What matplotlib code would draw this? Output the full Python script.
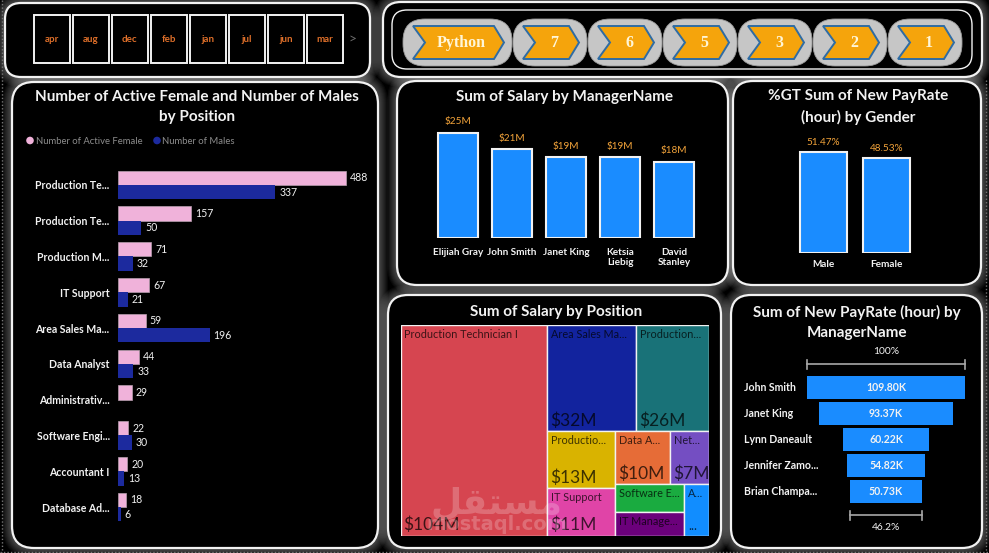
import numpy as np
import matplotlib
matplotlib.use("Agg")
import matplotlib.pyplot as plt
from matplotlib.patches import FancyBboxPatch, Rectangle, Polygon, Circle
import matplotlib.transforms as mtransforms

W, H = 989, 553

# ---------------- data ----------------
months = ["apr", "aug", "dec", "feb", "jan", "jul", "jun", "mar"]
buttons = ["Python", "7", "6", "5", "3", "2", "1"]

positions = ["Production Te...", "Production Te...", "Production M...", "IT Support",
             "Area Sales Ma...", "Data Analyst", "Administrativ...", "Software Engi...",
             "Accountant I", "Database Ad..."]
active_female = [488, 157, 71, 67, 59, 44, 29, 22, 20, 18]
males = [337, 50, 32, 21, 196, 33, np.nan, 30, 13, 6]

managers = ["Elijiah Gray", "John Smith", "Janet King", "Ketsia\nLiebig", "David\nStanley"]
salary_by_manager = [25.0, 21.0, 19.2, 19.1, 18.1]  # $M

genders = ["Male", "Female"]
payrate_share = [51.47, 48.53]  # %

tm_labels = ["Production Technician I", "Area Sales Ma...", "Production...", "Productio...",
             "IT Support", "Data A...", "Net...", "Software E...", "IT Manage...", "A..."]
tm_values = [104, 32, 26, 13, 11, 10, 7, 6.6, 5.4, 4.3]  # $M
tm_colors = ["#D64550", "#12239E", "#197278", "#D9B300", "#E044A7", "#E66C37",
             "#744EC2", "#1AAB40", "#6B007B", "#118DFF"]
tm_rows = [[0], [1, 2], [3, 4], [5, 6], [7, 8], [9]]

funnel_names = ["John Smith", "Janet King", "Lynn Daneault", "Jennifer Zamo...", "Brian Champa..."]
funnel_values = [109.80, 93.37, 60.22, 54.82, 50.73]  # K

# ---------------- style ----------------
TITLE_FONT = "Lato"
LABEL_FONT = "Lato"
WHITE = "#F2F2F2"
ORANGE = "#F2A33A"
BLUE = "#1A8CFF"
PINK = "#F0B2DA"
NAVY = "#1C2A9E"
TSIZE = 11

fig = plt.figure(figsize=(W / 100, H / 100), dpi=100, facecolor="black")
bg = fig.add_axes([0, 0, 1, 1])
bg.set_xlim(0, W)
bg.set_ylim(H, 0)
bg.axis("off")
bg.set_facecolor("black")


def add_ax(x0, y0, x1, y1):
    ax = fig.add_axes([x0 / W, 1 - y1 / H, (x1 - x0) / W, (y1 - y0) / H])
    ax.set_facecolor("none")
    for s in ax.spines.values():
        s.set_visible(False)
    return ax


def rbox(x0, y0, x1, y1, r, **kw):
    p = FancyBboxPatch((x0, y0), x1 - x0, y1 - y0,
                       boxstyle=f"round,pad=0,rounding_size={r}", **kw)
    bg.add_patch(p)
    return p


panels = [(5, 3, 370, 77, 16), (383, 2, 982, 77, 18), (12, 82, 378, 548, 22),
          (397, 81, 728, 285, 20), (733, 81, 981, 285, 20),
          (388, 295, 721, 548, 20), (731, 295, 982, 548, 20)]

# glow
for (x0, y0, x1, y1, r) in panels:
    for k in range(10, 0, -1):
        rbox(x0 - k, y0 - k, x1 + k, y1 + k, r + k, fc=(1, 1, 1, 0.035), ec="none", zorder=1)
for (x0, y0, x1, y1, r) in panels:
    rbox(x0, y0, x1, y1, r, fc="black", ec=WHITE, lw=1.6, zorder=2)

# dotted frame lines
bg.plot([1.5, 1.5], [0, H], ls=(0, (1, 1.5)), color="#777777", lw=1, zorder=3)
bg.plot([0, W], [551.5, 551.5], ls=(0, (1, 1.5)), color="#777777", lw=1, zorder=3)
bg.plot([985.5, 985.5], [80, H], ls=(0, (1, 1.5)), color="#777777", lw=1, zorder=3)

# ---------------- month slicer ----------------
for i, m in enumerate(months):
    bx = 34 + i * 39
    bg.add_patch(Rectangle((bx, 15), 35.5, 47.5, fc="black", ec=WHITE, lw=1.4, zorder=3))
    bg.text(bx + 17.75, 40, m, color="#E0702A", fontsize=7, fontweight="bold",
            family=LABEL_FONT, ha="center", va="center", zorder=4)
bg.text(353, 39, ">", color="#6A6A6A", fontsize=10, family=LABEL_FONT,
        ha="center", va="center", zorder=4)

# ---------------- button slicer ----------------
rbox(392, 10, 972, 69, 15, fc="none", ec=WHITE, lw=1.0, zorder=3)
for i, b in enumerate(buttons):
    if i == 0:
        px0, px1 = 403, 512
    else:
        cx = 550 + (i - 1) * 75
        px0, px1 = cx - 37, cx + 37
    rbox(px0, 19, px1, 66, 22, fc="#C6C6C6", ec="#9A9A9A", lw=0.6, zorder=3)
    a, bb = px0 + 10, px1 - 8
    chev = Polygon([(a, 26), (bb - 10, 26), (bb, 42.5), (bb - 10, 59), (a, 59), (a + 12, 42.5)],
                   closed=True, fc="#F5A40C", ec="#2F6CA3", lw=1.4, zorder=4)
    bg.add_patch(chev)
    bg.text((a + bb) / 2 + 3, 43, b, color="#FFF6D8", fontsize=11.5, fontweight="bold",
            family="Liberation Serif", ha="center", va="center", zorder=5)

# ---------------- chart C: female / males by position ----------------
bg.text(197, 107, "Number of Active Female and Number of Males\nby Position",
        color=WHITE, fontsize=TSIZE, fontweight="bold", family=TITLE_FONT, ha="center",
        va="center", linespacing=1.5, zorder=5)
bg.add_patch(Circle((30, 140.5), 3.8, fc=PINK, ec="none", zorder=5))
bg.text(35.5, 141, "Number of Active Female", color="#8C8C8C", fontsize=6.8,
        family=LABEL_FONT, ha="left", va="center", zorder=5)
bg.add_patch(Circle((157, 140.5), 3.8, fc=NAVY, ec="none", zorder=5))
bg.text(162.5, 141, "Number of Males", color="#8C8C8C", fontsize=6.8,
        family=LABEL_FONT, ha="left", va="center", zorder=5)

axc = add_ax(118, 167, 358, 525)
yy = np.arange(len(positions))
axc.barh(yy - 0.2, active_female, height=0.4, color=PINK, edgecolor="#B8A0B0", lw=0.5)
axc.barh(yy + 0.2, males, height=0.4, color=NAVY, edgecolor="none")
axc.set_xlim(0, max(active_female) * 1.053)
axc.set_ylim(len(positions) - 0.5, -0.5)
axc.set_xticks([])
axc.set_yticks(yy)
axc.set_yticklabels(positions, color=WHITE, fontsize=7.6, fontweight="bold", family=LABEL_FONT)
axc.tick_params(axis="y", length=0, pad=6)
off = mtransforms.offset_copy(axc.transData, fig=fig, x=4, y=0, units="dots")
for i, (f, m) in enumerate(zip(active_female, males)):
    axc.text(f, i - 0.2, str(f), transform=off, color=WHITE, fontsize=7.6,
             family=LABEL_FONT, ha="left", va="center")
    if not np.isnan(m):
        axc.text(m, i + 0.2, str(int(m)), transform=off, color=WHITE, fontsize=7.6,
                 family=LABEL_FONT, ha="left", va="center")

# ---------------- chart D: salary by manager ----------------
bg.text(564, 97, "Sum of Salary by ManagerName", color=WHITE, fontsize=TSIZE,
        fontweight="bold", family=TITLE_FONT, ha="center", va="center", zorder=5)
axd = add_ax(431, 118, 701, 238)
xd = np.arange(len(managers))
axd.bar(xd, salary_by_manager, width=0.74, color=BLUE, edgecolor=WHITE, lw=1.5)
axd.set_xlim(-0.5, len(managers) - 0.5)
axd.set_ylim(0, max(salary_by_manager) * 1.138)
axd.set_yticks([])
axd.set_xticks(xd)
axd.set_xticklabels(managers, color=WHITE, fontsize=7.2, fontweight="bold",
                    family=LABEL_FONT, linespacing=1.2)
axd.tick_params(axis="x", length=0, pad=7)
for i, v in enumerate(salary_by_manager):
    axd.annotate(f"${v:.0f}M", (i, v), xytext=(0, 11), textcoords="offset pixels",
                 color=ORANGE, fontsize=7.2, family=LABEL_FONT, ha="center", va="center")

# ---------------- chart E: %GT payrate by gender ----------------
bg.text(858, 107, "%GT Sum of New PayRate\n(hour) by Gender", color=WHITE, fontsize=TSIZE,
        fontweight="bold", family=TITLE_FONT, ha="center", va="center", linespacing=1.5,
        zorder=5)
axe = add_ax(792, 130, 918, 253)
xe = np.arange(len(genders))
axe.bar(xe, payrate_share, width=0.746, color=BLUE, edgecolor=WHITE, lw=1.5)
axe.set_xlim(-0.5, len(genders) - 0.5)
axe.set_ylim(0, max(payrate_share) * 1.222)
axe.set_yticks([])
axe.set_xticks(xe)
axe.set_xticklabels(genders, color=WHITE, fontsize=7.2, fontweight="bold", family=LABEL_FONT)
axe.tick_params(axis="x", length=0, pad=5)
for i, v in enumerate(payrate_share):
    axe.annotate(f"{v:.2f}%", (i, v), xytext=(0, 10), textcoords="offset pixels",
                 color=ORANGE, fontsize=7.2, family=LABEL_FONT, ha="center", va="center")

# ---------------- chart F: treemap ----------------
bg.text(556, 312, "Sum of Salary by Position", color=WHITE, fontsize=TSIZE,
        fontweight="bold", family=TITLE_FONT, ha="center", va="center", zorder=5)
tx0, ty0, tx1, ty1 = 400.5, 325, 709, 535.5
axt = add_ax(tx0, ty0, tx1, ty1)
tw, th = tx1 - tx0, ty1 - ty0
axt.set_xlim(0, tw)
axt.set_ylim(th, 0)
axt.set_xticks([])
axt.set_yticks([])


def treemap_rects(values, rows, x, y, w, h):
    scale = w * h / sum(values)
    rects = [None] * len(values)
    for g in rows:
        area = sum(values[i] for i in g) * scale
        if w >= h:
            cw = area / h
            yc = y
            for i in g:
                hh = values[i] * scale / cw
                rects[i] = (x, yc, cw, hh)
                yc += hh
            x += cw
            w -= cw
        else:
            rh = area / w
            xc = x
            for i in g:
                ww = values[i] * scale / rh
                rects[i] = (xc, y, ww, rh)
                xc += ww
            y += rh
            h -= rh
    return rects


rects = treemap_rects(tm_values, tm_rows, 0, 0, tw, th)
for (x, y, w, h), lab, v, c in zip(rects, tm_labels, tm_values, tm_colors):
    axt.add_patch(Rectangle((x, y), w, h, fc=c, ec=WHITE, lw=1.0))
    txtc = (0, 0, 0, 0.72)
    axt.text(x + 4, y + 4, lab, color=txtc, fontsize=7.8, family=LABEL_FONT,
             ha="left", va="top")
    if h >= 40 and w >= 35:
        axt.text(x + 3, y + h - 2, f"${v:.0f}M", color=txtc, fontsize=12.5,
                 family=LABEL_FONT, ha="left", va="bottom")
    elif w < 35:
        axt.text(x + 4, y + h - 3, "...", color=txtc, fontsize=9,
                 family=LABEL_FONT, ha="left", va="bottom")

# watermark
axt.text(96, 178, "\uFEDE\uFED8\uFE98\uFEB4\uFEE3", color=(1, 1, 1, 0.22), fontsize=26,
         fontweight="bold", family="DejaVu Sans", ha="center", va="center")
axt.text(96, 200, "mostaql.com", color=(1, 1, 1, 0.22), fontsize=14,
         fontweight="bold", family="DejaVu Sans", ha="center", va="center")

# ---------------- chart G: funnel ----------------
bg.text(857, 322.5, "Sum of New PayRate (hour) by\nManagerName", color=WHITE, fontsize=TSIZE,
        fontweight="bold", family=TITLE_FONT, ha="center", va="center", linespacing=1.5,
        zorder=5)
axf = add_ax(807, 374.5, 965, 504.5)
yf = np.arange(len(funnel_values))
vmax = max(funnel_values)
axf.barh(yf, funnel_values, left=[-v / 2 for v in funnel_values], height=0.88,
         color=BLUE, edgecolor="none")
axf.set_xlim(-vmax / 2, vmax / 2)
axf.set_ylim(len(funnel_values) - 0.5, -0.5)
axf.set_xticks([])
axf.set_yticks([])
for i, v in enumerate(funnel_values):
    axf.text(0, i, f"{v:.2f}K", color=WHITE, fontsize=7.6, family=LABEL_FONT,
             fontweight="bold", ha="center", va="center")
blend = mtransforms.blended_transform_factory(bg.transData, axf.transData)
for i, n in enumerate(funnel_names):
    axf.text(744, i, n, transform=blend, color=WHITE, fontsize=7.6, fontweight="bold",
             family=LABEL_FONT, ha="left", va="center")

GREY = "#A8A8A8"
ytop = -0.5 - 10.5 / 26
ybot = len(funnel_values) - 0.5 + 10.5 / 26
tk = 4.5 / 26
first, last = funnel_values[0], funnel_values[-1]
for v, yb, lab, ylab in [(first, ytop, "100%", -0.5 - 22.5 / 26),
                         (last, ybot, f"{last / first * 100:.1f}%",
                          len(funnel_values) - 0.5 + 23.5 / 26)]:
    axf.plot([-v / 2, v / 2], [yb, yb], color=GREY, lw=1.2, clip_on=False)
    axf.plot([-v / 2, -v / 2], [yb - tk, yb + tk], color=GREY, lw=1.2, clip_on=False)
    axf.plot([v / 2, v / 2], [yb - tk, yb + tk], color=GREY, lw=1.2, clip_on=False)
    axf.text(0, ylab, lab, color=WHITE, fontsize=7.4, family=LABEL_FONT,
             ha="center", va="center", clip_on=False)

fig.savefig("out.png", dpi=100, facecolor="black")
